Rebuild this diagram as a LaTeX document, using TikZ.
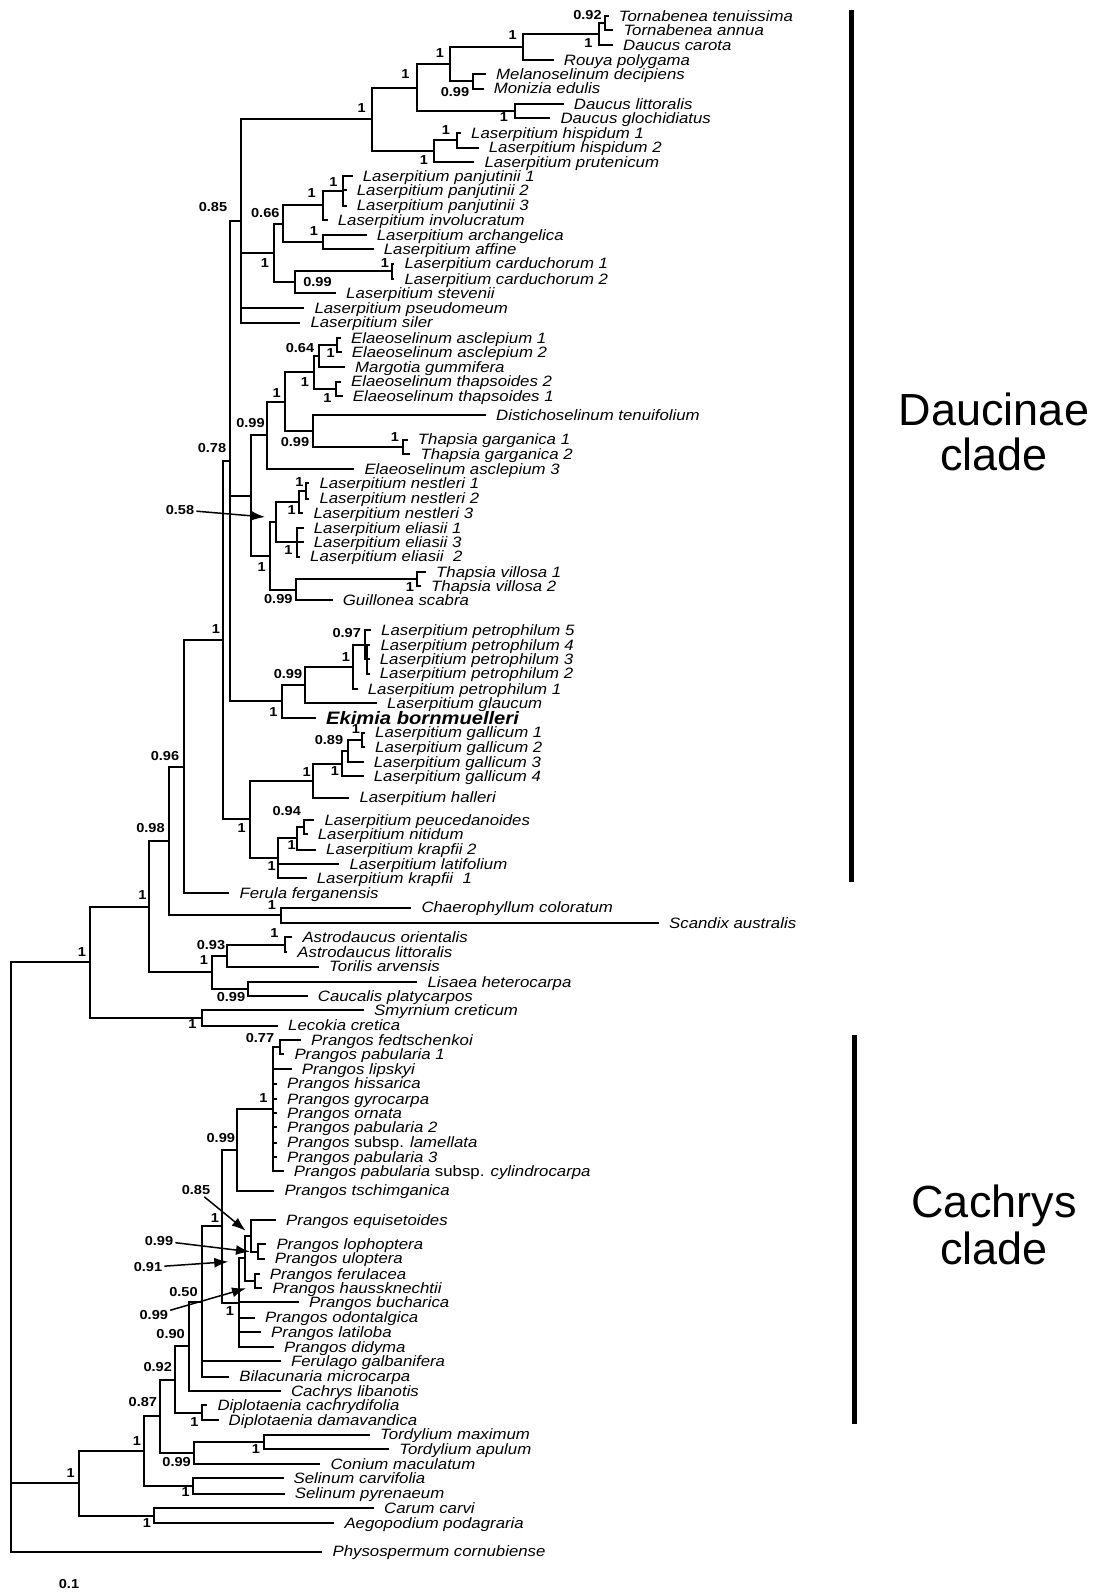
\documentclass[tikz,border=0pt]{standalone}
\usepackage{fontspec}
\setmainfont{Liberation Sans}[FakeStretch=1.12]
\newfontfamily\cladefont{Liberation Sans}
\usetikzlibrary{calc,arrows.meta}

% one clade: name, x of the node, children (top to bottom), support, support position
\newcommand{\clade}[5]{%
  \foreach \ch [count=\k] in {#3} {%
    \ifnum\k=1 \xdef\cfirst{\ch}\fi
    \xdef\clast{\ch}}%
  \path let \p1=($(\cfirst)!0.5!(\clast)$) in coordinate (#1) at (#2pt,\y1);
  \draw[branch] (#1 |- \cfirst) -- (#1 |- \clast);
  \foreach \ch in {#3} \draw[branch] (#1 |- \ch) -- (\ch);
  \if\relax\detokenize{#4}\relax\else
    \node[sup] (#1-s) at (#5) {#4};
  \fi
}

\tikzset{
  branch/.style={line width=2pt, line cap=rect},
  leaf/.style={anchor=west, inner xsep=11pt, inner ysep=0pt, text height=10.5pt, text depth=0pt,
    font=\fontsize{15}{15}\selectfont\itshape},
  sup/.style={inner sep=0pt, font=\fontsize{13}{13}\selectfont\bfseries},
  pointer/.style={line width=1.5pt, -{Latex[length=14pt,width=10pt]}},
  cladebar/.style={line width=5pt},
  cladename/.style={anchor=base, font=\cladefont\fontsize{45}{45}\selectfont}
}

\begin{document}
\begin{tikzpicture}[x=1pt,y=-1pt]
    \useasboundingbox[fill=white] (0,0) rectangle (1103,1595);

    % the taxa
    \foreach \n/\x/\y/\taxon in {
        1/607.7/16.3/Tornabenea tenuissima,
        2/612.3/30.5/Tornabenea annua,
        3/612/44.8/Daucus carota,
        4/552.7/60.0/Rouya polygama,
        5/485/74.3/Melanoselinum decipiens,
        6/482.7/88.5/Monizia edulis,
        7/562.7/103.8/Daucus littoralis,
        8/549.3/118.0/Daucus glochidiatus,
        9/460/133.3/Laserpitium hispidum 1,
        10/477.7/147.5/Laserpitium hispidum 2,
        11/473.3/161.8/Laserpitium prutenicum,
        12/351.7/176.0/Laserpitium panjutinii 1,
        13/345.7/190.3/Laserpitium panjutinii 2,
        14/345.7/205.5/Laserpitium panjutinii 3,
        15/326.7/219.8/Laserpitium involucratum,
        16/365.7/235.0/Laserpitium archangelica,
        17/372.7/249.3/Laserpitium affine,
        18/393.3/263.5/Laserpitium carduchorum 1,
        19/393.3/278.8/Laserpitium carduchorum 2,
        20/335/293.0/Laserpitium stevenii,
        21/303.3/308.3/Laserpitium pseudomeum,
        22/299.3/322.5/Laserpitium siler,
        23/340/337.8/Elaeoselinum asclepium 1,
        24/340.7/352.1/Elaeoselinum asclepium 2,
        25/344/367.3/Margotia gummifera,
        26/340/381.6/Elaeoselinum thapsoides 2,
        27/341.7/395.8/Elaeoselinum thapsoides 1,
        28/485/415.1/Distichoselinum tenuifolium,
        29/406.7/439.6/Thapsia garganica 1,
        30/409.3/453.8/Thapsia garganica 2,
        31/353.3/469.1/Elaeoselinum asclepium 3,
        32/308.3/483.3/Laserpitium nestleri 1,
        33/308.3/498.6/Laserpitium nestleri 2,
        34/302.3/512.8/Laserpitium nestleri 3,
        35/302.7/528.1/Laserpitium eliasii 1,
        36/302.7/542.3/Laserpitium eliasii 3,
        37/299/556.6/Laserpitium eliasii~~2,
        38/425/571.8/Thapsia villosa 1,
        39/420/586.1/Thapsia villosa 2,
        40/331.7/600.3/Guillonea scabra,
        41/370/629.8/Laserpitium petrophilum 5,
        42/369.3/645.1/Laserpitium petrophilum 4,
        43/368.7/659.3/Laserpitium petrophilum 3,
        44/368.7/673.6/Laserpitium petrophilum 2,
        45/356.7/688.8/Laserpitium petrophilum 1,
        46/376/703.1/Laserpitium glaucum,
        48/364/732.6/Laserpitium gallicum 1,
        49/364/746.8/Laserpitium gallicum 2,
        50/362.7/762.1/Laserpitium gallicum 3,
        51/362.7/776.4/Laserpitium gallicum 4,
        52/348.3/797.7/Laserpitium halleri,
        53/313.3/820.1/Laserpitium peucedanoides,
        54/306.7/834.4/Laserpitium nitidum,
        55/315/849.6/Laserpitium krapfii 2,
        56/338.3/863.9/Laserpitium latifolium,
        57/305.7/878.1/Laserpitium krapfii~~1,
        58/228.3/893.4/Ferula ferganensis,
        59/410.3/907.6/Chaerophyllum coloratum,
        60/658/922.9/Scandix australis,
        61/291.3/937.1/Astrodaucus orientalis,
        62/286.2/952.4/Astrodaucus littoralis,
        63/318/966.6/Torilis arvensis,
        64/416.4/981.9/Lisaea heterocarpa,
        65/306.7/996.1/Caucalis platycarpos,
        66/363/1010.4/Smyrnium creticum,
        67/277/1025.6/Lecokia cretica,
        68/300/1039.9/Prangos fedtschenkoi,
        69/283.3/1054.1/Prangos pabularia 1,
        70/290.7/1069.4/Prangos lipskyi,
        71/276/1083.6/Prangos hissarica,
        72/276/1098.9/Prangos gyrocarpa,
        73/276/1113.1/Prangos ornata,
        74/276/1127.4/Prangos pabularia 2,
        75/276/1142.7/Prangos \textup{subsp.} lamellata,
        76/276/1156.9/Prangos pabularia 3,
        77/282.7/1171.2/Prangos pabularia \textup{subsp.} cylindrocarpa,
        78/273.3/1190.5/Prangos tschimganica,
        79/275/1220.0/Prangos equisetoides,
        80/265.3/1244.4/Prangos lophoptera,
        81/263.7/1258.7/Prangos uloptera,
        82/258.7/1273.9/Prangos ferulacea,
        83/261.3/1288.2/Prangos haussknechtii,
        84/298/1302.4/Prangos bucharica,
        85/254/1317.7/Prangos odontalgica,
        86/260/1331.9/Prangos latiloba,
        87/273/1347.2/Prangos didyma,
        88/279.8/1361.4/Ferulago galbanifera,
        89/228.2/1376.7/Bilacunaria microcarpa,
        90/279.8/1390.9/Cachrys libanotis,
        91/206.3/1405.2/Diplotaenia cachrydifolia,
        92/217.5/1420.4/Diplotaenia damavandica,
        93/369/1434.7/Tordylium maximum,
        94/388.1/1448.9/Tordylium apulum,
        95/319.4/1464.2/Conium maculatum,
        96/282.5/1478.4/Selinum carvifolia,
        97/283.7/1493.7/Selinum pyrenaeum,
        98/373/1508.0/Carum carvi,
        99/333.3/1523.2/Aegopodium podagraria,
        100/321.4/1551.7/Physospermum cornubiense}
        \node[leaf] (l\n) at (\x,\y) {\taxon};
    \node[leaf, text height=12.9pt, font=\fontsize{18}{18}\selectfont\bfseries\itshape]
        (l47) at (315,718) {Ekimia bornmuelleri};

    % Daucinae
    \clade{torn}{605}{l1,l2}{0.92}{587.5,15}
    \clade{carota}{599}{torn,l3}{1}{588.3,42.7}
    \clade{rouya}{523.3}{carota,l4}{1}{512.7,35}
    \clade{monizia}{472.7}{l5,l6}{0.99}{455,91.7}
    \clade{daucus}{450}{rouya,monizia}{1}{440,52.7}
    \clade{dlitt}{515}{l7,l8}{1}{504,117.3}
    \clade{daucA}{416.7}{daucus,dlitt}{1}{405.3,74}
    \clade{hisp}{456.7}{l9,l10}{1}{446,130}
    \clade{prut}{434}{hisp,l11}{1}{424,160}
    \clade{daucB}{371.7}{daucA,prut}{1}{361.7,108.3}
    \clade{panj}{342.7}{l12,l13,l14}{1}{333.3,181.7}
    \clade{invol}{322.7}{panj,l15}{1}{311.7,193.3}
    \clade{arch}{322.7}{l16,l17}{1}{314,230.7}
    \clade{lasA}{283.3}{invol,arch}{0.66}{265.3,213.3}
    \clade{card}{391.7}{l18,l19}{1}{385,262.7}
    \clade{stev}{295}{card,l20}{0.99}{317.5,281.7}
    \clade{lasB}{274.3}{lasA,stev}{1}{265,263.3}
    \clade{lasC}{241}{daucB,lasB,l21,l22}{0.85}{213,206.7}
    \clade{elasc}{336.7}{l23,l24}{1}{330.7,353.3}
    \clade{marg}{319.3}{elasc,l25}{0.64}{300,348.3}
    \clade{thaps}{336}{l26,l27}{1}{327.3,398.3}
    \clade{elaeo}{314}{marg,thaps}{1}{305,381.7}
    \clade{garg}{403.3}{l29,l30}{1}{395,437.3}
    \clade{dist}{312.7}{l28,garg}{0.99}{295,441.7}
    \clade{thapA}{285}{elaeo,dist}{1}{276.7,393.3}
    \clade{thapB}{267}{thapA,l31}{0.99}{250.5,423.3}
    \clade{nest}{306}{l32,l33}{1}{299.3,481.7}
    \clade{nestB}{299.3}{nest,l34}{1}{291.7,510}
    \clade{elias}{296.7}{l35,l36,l37}{1}{288.3,550}
    \clade{nestel}{276}{nestB,elias}{}{}
    \clade{vill}{417.3}{l38,l39}{1}{410,586.7}
    \clade{guil}{296}{vill,l40}{0.99}{278.3,599.3}
    \clade{thapC}{270}{nestel,guil}{1}{261.7,566.7}
    \clade{thapsia}{251}{thapB,thapC}{}{}
    \clade{petA}{367.3}{l42,l43,l44}{}{}
    \clade{petB}{365}{l41,petA}{0.97}{346.7,633.3}
    \clade{petC}{353.3}{petB,l45}{1}{346,656.7}
    \clade{glauc}{305}{petC,l46}{0.99}{288,674}
    \clade{ekimia}{281.7}{glauc,l47}{1}{273.3,711.7}
    \clade{daucD}{230}{lasC,thapsia,ekimia}{0.78}{212,448}
    \clade{gallA}{361.7}{l48,l49}{1}{356,729.3}
    \clade{gallB}{348.3}{gallA,l50}{0.89}{329,740}
    \clade{gallC}{341.7}{gallB,l51}{1}{335,770.7}
    \clade{hall}{313.3}{gallC,l52}{1}{306.7,771.7}
    \clade{peuc}{304}{l53,l54}{0.94}{286.7,810.7}
    \clade{krapA}{296.7}{peuc,l55}{1}{291.7,845}
    \clade{krapB}{278.3}{krapA,l56,l57}{1}{271.7,866}
    \clade{lasD}{250}{hall,krapB}{1}{241.7,828.3}
    \clade{daucinae}{222.7}{daucD,lasD}{1}{216,629}
    \clade{ferula}{184.3}{daucinae,l58}{0.96}{165,756}
    \clade{scandix}{281}{l59,l60}{1}{271.8,905}
    \clade{scandB}{169.2}{ferula,scandix}{0.98}{150.5,828.5}
    \clade{astro}{284.6}{l61,l62}{1}{274.4,933.3}
    \clade{torilis}{226.7}{astro,l63}{0.93}{211,945}
    \clade{caucalis}{247.7}{l64,l65}{0.99}{231,996.7}
    \clade{torB}{211.8}{torilis,caucalis}{1}{204,960}
    \clade{scandC}{148.5}{scandB,torB}{1}{142.5,895}
    \clade{smyrn}{201.5}{l66,l67}{1}{192.3,1024}
    \clade{upper}{89.7}{scandC,smyrn}{1}{82,951.7}

    % Cachrys
    \clade{prA}{280}{l68,l69}{0.77}{260,1038.3}
    \clade{prB}{273.3}{prA,l70,l71,l72,l73,l74,l75,l76,l77}{1}{263.3,1098.3}
    \clade{prC}{237.3}{prB,l78}{0.99}{220.8,1138.3}
    \clade{lopho}{257.7}{l80,l81}{}{}
    \clade{equis}{251.3}{l79,lopho}{}{}
    \clade{ferul}{255.3}{l82,l83}{}{}
    \clade{prD}{245.3}{equis,ferul}{}{}
    \clade{prE}{238.7}{prD,l84,l85,l86,l87}{1}{230,1310.7}
    \clade{prF}{221.7}{prC,prE}{1}{215,1218.3}
    \clade{prG}{201.5}{prF,l88,l89}{0.50}{183.5,1291.7}
    \clade{cachrys}{188.5}{prG,l90}{0.90}{170.6,1334}
    \clade{dipl}{202.4}{l91,l92}{1}{194.4,1421.7}
    \clade{cachB}{175.4}{cachrys,dipl}{0.92}{157.7,1367.3}
    \clade{tord}{263.9}{l93,l94}{1}{256,1449}
    \clade{conium}{194.4}{tord,l95}{0.99}{176.6,1461.7}
    \clade{cachC}{160}{cachB,conium}{0.87}{142.9,1401.7}
    \clade{selin}{193.3}{l96,l97}{1}{185.7,1492.3}
    \clade{lower}{143.7}{cachC,selin}{1}{137,1440.7}
    \clade{carum}{153.6}{l98,l99}{1}{146.8,1522.7}
    \clade{lowerB}{78.6}{lower,carum}{1}{70.6,1472.7}
    \clade{root}{11.3}{upper,lowerB,l100}{}{}

    % supports pointed at by arrows
    \foreach \s/\sx/\sy/\tx/\ty/\val in {
        a/180/509.8/265/517/0.58,
        b/196/1190/245.7/1230.7/0.85,
        c/159/1240.7/250/1251.7/0.99,
        d/148/1267.3/228.3/1261.7/0.91,
        e/153.8/1315/246/1288.3/0.99} {
        \node[sup, inner sep=2pt] (p\s) at (\sx,\sy) {\val};
        \coordinate (p\s-tip) at (\tx,\ty);
        \draw[pointer] (p\s) -- (p\s-tip);
    }

    % clade bars
    \draw[cladebar] (851,10) coordinate (dtop) -- (851,882) coordinate (dbot);
    \draw[cladebar] (854,1035) coordinate (ctop) -- (854,1424) coordinate (cbot);
    \node[cladename] (dname) at (994,425) {Daucinae};
    \node[cladename] (dclade) at (994,470) {clade};
    \node[cladename] (cname) at (994,1217) {Cachrys};
    \node[cladename] (cclade) at (994,1264) {clade};

    \node[sup] (scale) at (69,1584) {0.1};
\end{tikzpicture}
\end{document}
